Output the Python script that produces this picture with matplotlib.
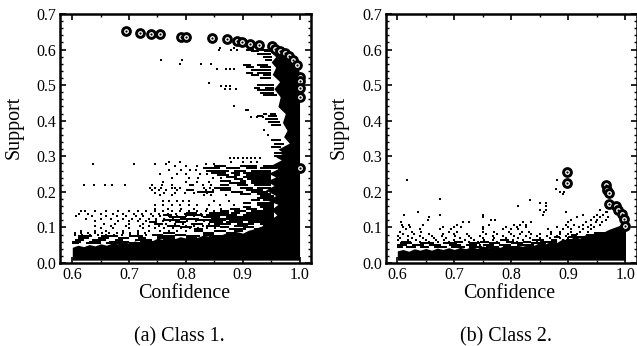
import matplotlib
matplotlib.use("Agg")
import matplotlib.pyplot as plt
from matplotlib.ticker import MultipleLocator

plt.rcParams['font.family'] = ['Liberation Serif', 'DejaVu Serif']

# ---- Class 1: circled (Pareto) rules
c1_ring_conf = [.695,.719,.738,.754,.791,.801,.846,.873,.890,.899,.912,.929,.952,.957,.966,.975,.981,.988,.995,1.0,1.0,1.0,1.0,1.0]
c1_ring_supp = [.652,.647,.645,.643,.635,.635,.633,.631,.624,.622,.617,.612,.610,.602,.597,.591,.582,.570,.556,.522,.513,.491,.466,.266]

# ---- Class 1: solid low region (upper envelope)
c1_low_conf = [.600,.610,.620,.630,.640,.650,.660,.670,.680,.690,.700,.710,.720,.730,.740,.750,.760,.770,.780,.790,.800,.810,.820,.830,.840,.850,.860,.870,.880,.890,.900,.910,.920,.930,.940,.950,.960,.970,.980,.990,1.000]
c1_low_top  = [.044,.050,.046,.052,.048,.054,.050,.056,.054,.060,.056,.062,.058,.066,.062,.070,.066,.072,.068,.074,.070,.076,.072,.078,.076,.080,.078,.084,.080,.088,.084,.092,.096,.102,.108,.118,.128,.138,.140,.140,.140]

# ---- Class 1: solid right column
c1_col_supp  = [.010,.100,.118,.135,.150,.165,.175,.190,.205,.218,.230,.242,.252,.265,.275,.290,.298,.310,.320,.337,.355,.373,.395,.420,.440,.467,.490,.510,.530,.550,.565,.580,.595,.605]
c1_col_left  = [.950,.955,.945,.960,.950,.962,.945,.958,.940,.955,.942,.958,.945,.962,.950,.968,.958,.972,.962,.982,.972,.978,.970,.975,.962,.966,.955,.965,.952,.958,.950,.958,.948,.958]
c1_col_right = [1.00,1.00,1.00,1.00,1.00,1.00,1.00,1.00,1.00,1.00,1.00,1.00,1.00,1.00,1.00,1.00,1.00,1.00,1.00,1.00,1.00,1.00,1.00,1.00,1.00,1.00,1.00,1.00,1.00,.998,.992,.982,.970,.958]

# ---- Class 1: streaks of adjoining rules: support level, run starts, run ends
c1_run_levels = [.600,.595,.588,.580,.572,.556,.550,.543,.535,.528,.520,.500,.493,.486,.479,.472,.420,.412,.404,.396,.388,.345,.335,.325,.310,.300,.272,.266,.260,.254,.248,.242,.236,.230,.224,.218,.212,.206,.200,.194,.188,.182,.176,.170,.164,.158,.152,.146,.140,.135,.130,.125,.120,.115,.110,.105,.100,.095,.090,.085,.080,.075,.070,.065,.060,.055]
c1_run_start = [
 [.905,.930],[.915,.938],[.925],[.935],[.940],
 [.900,.925],[.905,.930],[.915],[.905,.925],[.915,.935],[.930],
 [.925],[.920,.940],[.925],[.930],[.935],
 [.935,.948],[.925,.945],[.940],[.945],[.950],
 [.950],[.955],[.950],[.955],[.955],
 [.850,.895,.935],[.830,.870,.905,.930],[.835,.885,.915],[.845,.880,.900],[.855,.885,.905],[.870,.900],[.885,.908],[.860,.895,.915],[.875,.915],[.805,.860,.890,.920],[.850,.895,.925],[.800,.860,.905],[.820,.880,.915],[.895,.925],[.930],[.925],[.915,.935],[.900,.925],[.925],[.900,.930],[.880,.905,.935],[.860,.885,.915],[.800,.840,.880,.905],[.760,.800,.835,.900],[.770,.830,.870],[.790,.845],[.760,.820,.875],[.735,.780,.840,.870,.910],[.745,.810,.850,.890,.930],[.770,.835,.885,.935],[.790,.860,.900,.935],[.815,.875,.920],[.815,.850,.885,.920],[.760,.830,.870,.905],[.740,.780,.830,.870,.905],
 [.610,.650,.700,.750,.800,.840,.880,.920],
 [.610,.645,.680,.715,.750,.800,.840,.900],
 [.605,.635,.675,.710,.760,.805,.860],
 [.600,.630,.665,.720,.770,.830],
 [.600,.625,.660,.700,.745],
]
c1_run_end = [
 [.920,.945],[.928,.950],[.950],[.952],[.952],
 [.915,.945],[.920,.950],[.950],[.918,.950],[.928,.950],[.950],
 [.955],[.930,.955],[.955],[.955],[.960],
 [.942,.958],[.935,.960],[.962],[.965],[.968],
 [.968],[.972],[.968],[.975],[.975],
 [.870,.925,.960],[.860,.895,.925,.960],[.875,.905,.950],[.870,.895,.950],[.875,.895,.950],[.890,.950],[.900,.950],[.880,.905,.950],[.905,.950],[.815,.875,.910,.950],[.880,.918,.950],[.815,.880,.935],[.850,.900,.945],[.915,.950],[.955],[.955],[.930,.955],[.915,.955],[.955],[.915,.955],[.895,.925,.955],[.875,.905,.955],[.820,.875,.895,.955],[.775,.830,.890,.955],[.800,.860,.955],[.820,.955],[.790,.870,.955],[.750,.800,.865,.900,.955],[.760,.830,.880,.920,.965],[.790,.860,.910,.965],[.810,.875,.920,.965],[.830,.905,.965],[.830,.870,.900,.965],[.780,.850,.890,.965],[.760,.800,.850,.890,.965],
 [.635,.680,.725,.780,.825,.865,.905,.965],
 [.630,.665,.700,.730,.780,.820,.880,.970],
 [.620,.660,.690,.740,.790,.850,.920],
 [.615,.650,.700,.750,.815,.900],
 [.612,.650,.690,.735,.790],
]

# ---- Class 1: scattered rules, one list per support level
c1_levels = [.605,.600,.570,.560,.545,.505,.497,.490,.440,.430,.410,.375,.360,.295,.285,.278,.272,.262,.250,.240,.228,.220,.212,.205,.197,.190,.175,.163,.153,.146,.139,.132,.125,.118,.111,.104,.097,.090,.085,.080]
c1_scatter = [
 [.860,.885],
 [.858,.880,.890],
 [.756,.793],
 [.790,.827,.845],
 [.855,.870,.878,.885],
 [.840],
 [.862,.870,.878],
 [.868,.878,.888],
 [.885],
 [.905,.910],
 [.915,.925,.935],
 [.938],
 [.945],
 [.878,.885,.892,.900,.908,.915,.922,.930],
 [.770,.790,.880,.900,.915,.925],
 [.637,.708,.745,.765,.835,.850],
 [.780,.800,.820],
 [.770,.792,.808,.818],
 [.755,.785,.800,.825,.838],
 [.775,.805,.822,.848,.862],
 [.760,.800,.820,.840],
 [.620,.638,.657,.670,.692,.740,.758,.776,.830,.845],
 [.736,.745,.757,.776,.780,.790,.832,.842],
 [.740,.752,.765,.785,.835,.848],
 [.745,.762,.780,.798,.815,.838],
 [.755,.775,.832,.845,.870],
 [.760,.770,.785,.795,.805,.850,.875],
 [.745,.760,.775,.790,.805,.820,.840,.860,.885],
 [.745,.768,.792,.815,.838,.862,.880],
 [.615,.622,.640,.660,.680,.700,.715,.730,.745,.760,.775,.790,.805,.820,.835,.850],
 [.612,.628,.650,.672,.690,.708,.722,.738,.752,.768,.782,.798,.812,.826],
 [.607,.635,.660,.678,.695,.712,.725,.742,.755,.770,.785,.800,.815,.828],
 [.625,.650,.668,.690,.705,.720,.735,.748,.762,.778,.792,.808,.822],
 [.640,.680,.700,.715,.730,.748,.760,.772,.788,.802,.818,.832],
 [.655,.675,.700,.725,.745,.765,.780,.795,.810,.825,.840],
 [.640,.668,.695,.720,.735,.752,.768,.785,.800,.815,.830,.845],
 [.650,.672,.700,.725,.745,.762,.778,.792,.808,.822,.838,.852],
 [.615,.640,.660,.690,.715,.735,.755,.770,.785,.800],
 [.605,.615,.628,.640,.652,.665,.678,.690,.702,.715,.728],
 [.604,.618,.632,.646,.660,.674,.688,.702,.716,.730,.744],
]

# ---- Class 2: circled rules
c2_ring_conf = [.898,.898,.965,.967,.971,.971,.983,.987,.994,.997,1.0]
c2_ring_supp = [.256,.226,.219,.205,.198,.167,.160,.148,.139,.125,.103]

# ---- Class 2: solid envelope
c2_low_conf = [.600,.610,.620,.630,.640,.650,.660,.670,.680,.690,.700,.710,.720,.730,.740,.750,.760,.770,.780,.790,.800,.810,.820,.830,.840,.850,.860,.870,.880,.890,.900,.910,.920,.930,.940,.950,.960,.970,.980,.990,1.000]
c2_low_top  = [.034,.038,.033,.040,.036,.041,.036,.042,.038,.043,.038,.044,.040,.046,.041,.048,.043,.049,.044,.050,.045,.050,.047,.053,.050,.058,.054,.062,.058,.068,.064,.074,.070,.080,.078,.086,.086,.094,.100,.106,.110]

# ---- Class 2: streaks of adjoining rules
c2_run_levels = [.085,.078,.072,.066,.060,.055,.050,.045]
c2_run_start = [[.945],[.905,.930],[.875,.900],[.780,.840,.870,.895],[.610,.700,.745,.790,.820,.850],[.605,.640,.680,.725,.760,.800,.835],[.600,.625,.655,.690,.720,.750,.780,.810],[.600,.615,.640,.665,.695,.725,.755,.785]]
c2_run_end   = [[.965],[.915,.955],[.885,.930],[.795,.855,.880,.920],[.620,.715,.760,.805,.835,.880],[.625,.665,.705,.745,.780,.820,.860],[.615,.645,.675,.710,.740,.770,.800,.840],[.610,.632,.656,.688,.718,.748,.778,.810]]

# ---- Class 2: scattered rules
c2_levels = [.232,.207,.200,.195,.180,.176,.170,.160,.150,.143,.135,.128,.122,.115,.108,.102,.095,.088,.082,.076,.070,.064,.058,.052]
c2_scatter = [
 [.617,.880],
 [.879],
 [.893,.885],
 [.890],
 [.674],
 [.832],
 [.860,.850],
 [.811,.860,.975],
 [.850,.860,.955],
 [.637,.858,.896,.968,.965],
 [.612,.674,.750,.855,.925,.950,.960],
 [.655,.750,.915,.945,.955,.970],
 [.653,.772,.765,.905,.940,.950,.965],
 [.607,.715,.725,.820,.835,.900,.930,.948,.958],
 [.608,.620,.645,.705,.760,.805,.815,.825,.895,.910,.925,.940,.955],
 [.610,.622,.680,.700,.712,.750,.790,.810,.825,.880,.900,.918,.935,.945],
 [.615,.640,.675,.695,.750,.785,.800,.812,.865,.890,.905,.925,.940],
 [.605,.625,.642,.690,.705,.750,.770,.795,.818,.830,.870,.885,.905,.920,.935],
 [.610,.630,.655,.680,.700,.722,.755,.775,.800,.815,.835,.850,.870,.885,.900,.915],
 [.602,.618,.640,.660,.678,.702,.725,.745,.768,.785,.805,.825,.845,.862,.880,.895,.912],
 [.605,.625,.645,.665,.685,.710,.730,.750,.770,.790,.812,.832,.850,.868,.885,.900],
 [.602,.618,.632,.650,.668,.682,.700,.718,.735,.752,.768,.785,.802,.820,.838,.855,.872,.890],
 [.608,.622,.640,.655,.672,.690,.708,.725,.742,.758,.775,.792,.810,.828,.845,.862],
 [.604,.616,.630,.645,.660,.675,.692,.710,.728,.745,.762,.780,.798,.815,.832],
]

W, H = 637, 346
fig = plt.figure(figsize=(W/100, H/100), dpi=100)


def panel(left, right, xlim):
    ax = fig.add_axes([left/W, 1-263/H, (right-left)/W, (263-14)/H])
    ax.set_xlim(*xlim)
    ax.set_ylim(0, 0.7)
    ax.xaxis.set_major_locator(MultipleLocator(0.1))
    ax.xaxis.set_minor_locator(MultipleLocator(0.05))
    ax.yaxis.set_major_locator(MultipleLocator(0.1))
    ax.yaxis.set_minor_locator(MultipleLocator(0.02))
    ax.tick_params(which='major', direction='in', top=True, right=True, length=4, width=1.2,
                   labelsize=11.5, pad=3, colors='black')
    ax.tick_params(which='minor', direction='in', top=True, right=True, length=2.2, width=1.0)
    ax.xaxis.set_major_formatter(lambda v, p: f"{v:.1f}")
    ax.yaxis.set_major_formatter(lambda v, p: f"{v:.1f}")
    for sp in ax.spines.values():
        sp.set_linewidth(1.8)
        sp.set_zorder(10)
    return ax


def rings(ax, conf, supp):
    for i, (c, s) in enumerate(zip(conf, supp)):
        z = 5 + i*0.01
        ax.scatter([c], [s], s=60, c='black', linewidths=0, zorder=z, clip_on=False)
        ax.scatter([c], [s], s=12, c='white', linewidths=0, zorder=z, clip_on=False)
        ax.scatter([c], [s], s=2.6, c='black', linewidths=0, zorder=z, clip_on=False)


def dots(ax, levels, rows):
    for s, row in zip(levels, rows):
        ax.scatter(row, [s]*len(row), s=2.2, marker='s', c='black', linewidths=0, zorder=3)


def runs(ax, levels, starts, ends):
    for s, a, b in zip(levels, starts, ends):
        ax.hlines([s]*len(a), a, b, colors='black', linewidth=1.2, zorder=3, antialiased=False)


ax1 = panel(60, 311, (0.5784, 1.0202))
ax1.fill_between(c1_low_conf, 0.008, c1_low_top, color='black', lw=0, zorder=2)
ax1.fill_betweenx(c1_col_supp, c1_col_left, c1_col_right, color='black', lw=0, zorder=2)
runs(ax1, c1_run_levels, c1_run_start, c1_run_end)
dots(ax1, c1_levels, c1_scatter)
rings(ax1, c1_ring_conf, c1_ring_supp)

ax2 = panel(386, 636.5, (0.5802, 1.0193))
ax2.fill_between(c2_low_conf, 0.008, c2_low_top, color='black', lw=0, zorder=2)
runs(ax2, c2_run_levels, c2_run_start, c2_run_end)
dots(ax2, c2_levels, c2_scatter)
rings(ax2, c2_ring_conf, c2_ring_supp)

for xc, yl in ((184, 14), (509, 339)):
    fig.text(xc/W, 1-293/H, "Confidence", ha='center', va='center', fontsize=14.4)
    fig.text(yl/W, 1-127/H, "Support", ha='center', va='center', rotation=90, fontsize=14.4)
fig.text(179/W, 1-337/H, "(a) Class 1.", ha='center', va='center', fontsize=14.4)
fig.text(505.5/W, 1-337/H, "(b) Class 2.", ha='center', va='center', fontsize=14.4)

fig.savefig("out.png", dpi=100)
